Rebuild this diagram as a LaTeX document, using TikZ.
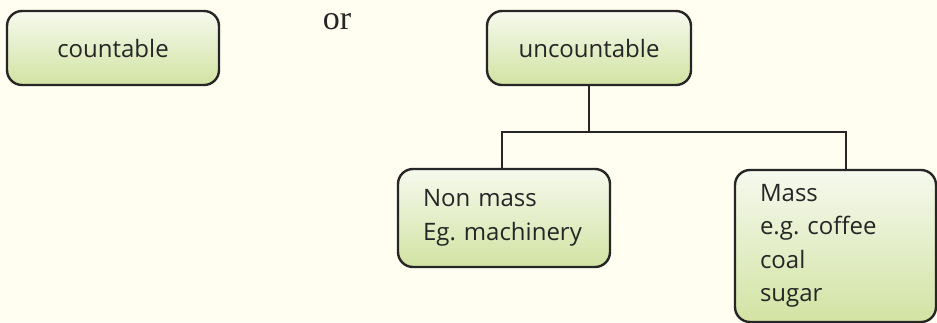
\documentclass[tikz,border=0pt]{standalone}
\usepackage{fontspec}
\newfontfamily\boxfont{Open Sans}
\newfontfamily\orfont{Liberation Serif}
\usetikzlibrary{positioning}
\definecolor{sfondo}{RGB}{255,254,240}
\definecolor{verdesu}{RGB}{246,249,238}
\definecolor{verdegiu}{RGB}{210,227,163}
\definecolor{bordo}{RGB}{38,38,38}
\tikzset{
  scatola/.style={draw=bordo, line width=2.4pt, rounded corners=15pt,
    top color=verdesu, bottom color=verdegiu, text=bordo,
    font=\boxfont\fontsize{24}{33.5}\selectfont},
  collega/.style={draw=bordo, line width=2.4pt}
}
\frenchspacing
\begin{document}
\begin{tikzpicture}[x=1pt,y=-1pt]
        % sfondo
        \useasboundingbox (0,0) rectangle (937,322);
        \fill[sfondo] (0,0) rectangle (937,322);
        % scatole in alto
        \node[scatola, minimum width=212pt, minimum height=74pt] (count) at (113,48) {countable};
        \node[font=\orfont\fontsize{34}{34}\selectfont, text=bordo, anchor=base, inner sep=0pt] (or) at (337,29) {or};
        \node[scatola, minimum width=204pt, minimum height=74pt] (uncount) at (589,48) {uncountable};
        % scatole in basso
        \node[scatola, minimum width=212pt, minimum height=98pt, text width=162pt, align=left, inner sep=0pt] (nonmass) at (504,218) {Non mass\\Eg. machinery};
        \node[scatola, minimum width=201pt, minimum height=152pt, text width=151pt, align=left, inner sep=0pt] (mass) at (835.5,246) {Mass\\e.g. coffee\\coal\\sugar};
        % collegamenti
        \draw[collega] (uncount.south) -- ++(0,46) coordinate (bus);
        \draw[collega] ([xshift=-2pt]nonmass.north) |- (bus) -| ([xshift=10.5pt]mass.north);
    \end{tikzpicture}
\end{document}
